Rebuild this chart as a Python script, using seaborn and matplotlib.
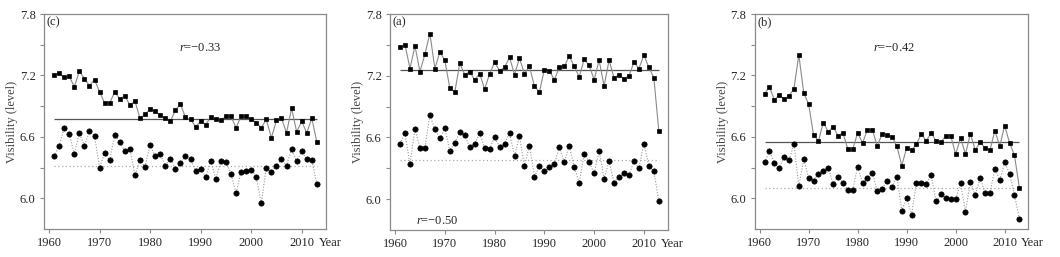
import matplotlib
matplotlib.use("Agg")
import matplotlib.pyplot as plt
import seaborn as sns
import pandas as pd

years = list(range(1961, 2014))

# panel (c)
c_sq = [7.20, 7.22, 7.18, 7.19, 7.09, 7.24, 7.17, 7.10, 7.16, 7.04,
        6.93, 6.93, 7.04, 6.97, 7.00, 6.91, 6.95, 6.78, 6.82, 6.87,
        6.85, 6.81, 6.78, 6.75, 6.86, 6.92, 6.79, 6.77, 6.70, 6.75,
        6.72, 6.79, 6.77, 6.76, 6.80, 6.80, 6.69, 6.80, 6.80, 6.77,
        6.74, 6.69, 6.77, 6.59, 6.76, 6.78, 6.64, 6.88, 6.65, 6.75,
        6.64, 6.78, 6.55]
c_ci = [6.41, 6.51, 6.69, 6.63, 6.43, 6.64, 6.51, 6.66, 6.61, 6.30,
        6.44, 6.37, 6.62, 6.55, 6.46, 6.48, 6.23, 6.37, 6.31, 6.52,
        6.41, 6.43, 6.32, 6.38, 6.29, 6.34, 6.41, 6.38, 6.27, 6.29,
        6.21, 6.36, 6.19, 6.36, 6.35, 6.24, 6.05, 6.26, 6.27, 6.28,
        6.21, 5.95, 6.30, 6.26, 6.32, 6.38, 6.32, 6.48, 6.36, 6.46,
        6.38, 6.37, 6.14]
c_mean_sq, c_mean_ci = 6.77, 6.32

# panel (a)
a_sq = [7.48, 7.50, 7.27, 7.49, 7.24, 7.41, 7.61, 7.27, 7.43, 7.35,
        7.08, 7.04, 7.32, 7.21, 7.24, 7.16, 7.22, 7.07, 7.22, 7.33,
        7.25, 7.28, 7.38, 7.21, 7.37, 7.22, 7.29, 7.10, 7.04, 7.26,
        7.25, 7.16, 7.28, 7.29, 7.39, 7.29, 7.19, 7.36, 7.30, 7.16,
        7.35, 7.10, 7.35, 7.18, 7.21, 7.17, 7.20, 7.33, 7.27, 7.40,
        7.28, 7.18, 6.66]
a_ci = [6.54, 6.64, 6.34, 6.68, 6.50, 6.50, 6.82, 6.68, 6.59, 6.69,
        6.47, 6.55, 6.65, 6.62, 6.51, 6.54, 6.64, 6.50, 6.49, 6.60,
        6.51, 6.54, 6.64, 6.42, 6.61, 6.32, 6.52, 6.22, 6.32, 6.27,
        6.31, 6.34, 6.51, 6.36, 6.52, 6.31, 6.16, 6.44, 6.36, 6.25,
        6.47, 6.20, 6.37, 6.16, 6.22, 6.25, 6.23, 6.37, 6.30, 6.54,
        6.32, 6.27, 5.98]
a_mean_sq, a_mean_ci = 7.26, 6.38

# panel (b)
b_sq = [7.02, 7.09, 6.96, 7.01, 6.97, 7.00, 7.07, 7.40, 7.03, 6.92,
        6.62, 6.56, 6.74, 6.65, 6.70, 6.61, 6.64, 6.48, 6.48, 6.64,
        6.54, 6.67, 6.67, 6.51, 6.63, 6.62, 6.60, 6.51, 6.32, 6.49,
        6.47, 6.53, 6.63, 6.56, 6.64, 6.56, 6.55, 6.61, 6.61, 6.43,
        6.59, 6.43, 6.63, 6.47, 6.55, 6.49, 6.47, 6.66, 6.51, 6.71,
        6.54, 6.42, 6.10]
b_ci = [6.35, 6.46, 6.34, 6.30, 6.40, 6.37, 6.53, 6.12, 6.38, 6.20,
        6.17, 6.24, 6.27, 6.30, 6.14, 6.21, 6.15, 6.08, 6.08, 6.31,
        6.15, 6.20, 6.25, 6.07, 6.09, 6.17, 6.11, 6.21, 5.88, 6.00,
        5.84, 6.15, 6.15, 6.14, 6.23, 5.97, 6.04, 6.00, 5.99, 5.99,
        6.15, 5.87, 6.16, 6.03, 6.20, 6.05, 6.05, 6.29, 6.18, 6.35,
        6.24, 6.03, 5.80]
b_mean_sq, b_mean_ci = 6.55, 6.10

panel_tags = ["(c)", "(a)", "(b)"]
r_texts = ["\u22120.33", "\u22120.50", "\u22120.42"]
r_pos = [(1990, 7.47), (1968.5, 5.79), (1987.5, 7.47)]

sns.set_style("white")
plt.rcParams['font.family'] = ['Liberation Serif', 'DejaVu Serif']
plt.rcParams['mathtext.fontset'] = 'custom'
plt.rcParams['mathtext.it'] = 'Liberation Serif:italic'
plt.rcParams['mathtext.rm'] = 'Liberation Serif'

fig = plt.figure(figsize=(10.6, 2.57), dpi=100)
boxes = [(0.0415, 0.109, 0.266, 0.8365),
         (0.368, 0.105, 0.262, 0.8405),
         (0.712, 0.109, 0.258, 0.8365)]

panels = [(c_sq, c_ci, c_mean_sq, c_mean_ci),
          (a_sq, a_ci, a_mean_sq, a_mean_ci),
          (b_sq, b_ci, b_mean_sq, b_mean_ci)]

grey = "#8a8a8a"
for i, (sq, ci, msq, mci) in enumerate(panels):
    ax = fig.add_axes(boxes[i])
    df = pd.DataFrame({"year": years, "sq": sq, "ci": ci})

    # mean lines
    ax.hlines(msq, 1961, 2013, color="#555555", lw=0.9, zorder=1)
    ax.hlines(mci, 1961, 2013, color="#aaaaaa", lw=0.9, ls=(0, (1, 2)), zorder=1)

    sns.lineplot(data=df, x="year", y="sq", ax=ax, color=grey, lw=0.8,
                 marker="s", markersize=3.4, markerfacecolor="black",
                 markeredgecolor="black", markeredgewidth=0.5, zorder=3)
    sns.lineplot(data=df, x="year", y="ci", ax=ax, color="#9a9a9a", lw=0.8,
                 ls=(0, (1, 1.5)), marker="o", markersize=3.8,
                 markerfacecolor="black", markeredgecolor="black",
                 markeredgewidth=0.5, zorder=3)

    ax.set_xlim(1959, 2014.8)
    ax.set_ylim(5.7, 7.8)
    ax.set_xticks([1960, 1970, 1980, 1990, 2000, 2010])
    ax.set_yticks([6.0, 6.6, 7.2, 7.8])
    ax.set_yticks([6.3, 6.9, 7.5], minor=True)
    ax.yaxis.set_major_formatter(plt.FormatStrFormatter("%.1f"))
    ax.tick_params(axis="both", which="both", direction="out", length=3,
                   width=0.8, color=grey, labelsize=9, pad=3,
                   left=True, bottom=True)
    for s in ax.spines.values():
        s.set_color(grey)
        s.set_linewidth(0.9)
    ax.set_xlabel("")
    ax.set_ylabel("Visibility (level)", fontsize=9, color="#444444", labelpad=1)

    ax.text(1959.5, 7.72, panel_tags[i], fontsize=9, va="center", ha="left")
    rx, ry = r_pos[i]
    ax.text(rx, ry, r"$\mathit{r}$=" + r_texts[i], fontsize=9,
            ha="center", va="center")
    ax.text(0.975, -0.065, "Year", transform=ax.transAxes, fontsize=9,
            ha="left", va="center")

fig.savefig("out.png", dpi=100)
